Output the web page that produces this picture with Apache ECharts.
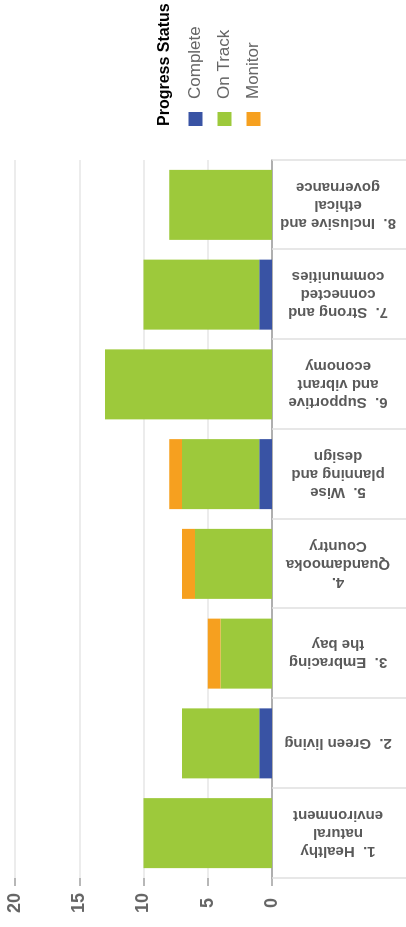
<!DOCTYPE html>
<html>
<head>
<meta charset="utf-8">
<title>Progress Status by Theme</title>
<script src="https://cdn.jsdelivr.net/npm/echarts@6/dist/echarts.min.js"></script>
<style>
  html, body { margin: 0; padding: 0; background: #fff; overflow: hidden; }
  #page { position: relative; width: 406px; height: 927px; overflow: hidden; }
  /* The column chart is laid out 927 wide x 406 tall, then turned a quarter turn anticlockwise */
  #chart {
    position: absolute; left: 0; top: 0;
    width: 927px; height: 406px;
    transform-origin: 0 0;
    transform: translateY(927px) rotate(-90deg);
  }
</style>
</head>
<body>
<div id="page"><div id="chart"></div></div>
<script>
const categories = [
  '1.  Healthy\nnatural\nenvironment',
  '2.  Green living',
  '3.  Embracing\nthe bay',
  '4.\nQuandamooka\nCountry',
  '5.  Wise\nplanning and\ndesign',
  '6.  Supportive\nand vibrant\neconomy',
  '7.  Strong and\nconnected\ncommunities',
  '8.  Inclusive and\nethical\ngovernance'
];
const complete = [0, 1, 0, 0, 1, 0, 1, 0];
const onTrack  = [10, 6, 4, 6, 6, 13, 9, 8];
const monitor  = [0, 0, 1, 1, 1, 0, 0, 0];
const valueTicks = { min: 0, max: 20, interval: 5 };

const FONT = '"Liberation Sans", Arial, Helvetica, sans-serif';
const colors = { complete: '#3953a4', onTrack: '#9dc93b', monitor: '#f6a01f' };

const chart = echarts.init(document.getElementById('chart'), null, { renderer: 'canvas' });

chart.setOption({
  animation: false,
  backgroundColor: '#ffffff',
  textStyle: { fontFamily: FONT },
  title: {
    text: 'Progress Status',
    left: 801,
    top: 157,
    padding: 0,
    textStyle: { fontFamily: FONT, fontSize: 16, fontWeight: 'bold', color: '#000000' }
  },
  legend: {
    orient: 'vertical',
    left: 801,
    top: 187,
    padding: 0,
    itemWidth: 14,
    itemHeight: 14,
    itemGap: 12,
    icon: 'rect',
    itemStyle: { borderWidth: 0 },
    textStyle: { fontFamily: FONT, fontSize: 17, color: '#666666', padding: [0, 0, 0, 8] },
    data: ['Complete', 'On Track', 'Monitor']
  },
  grid: { left: 49, right: 160, top: 15, bottom: 134, containLabel: false },
  xAxis: {
    type: 'category',
    data: categories,
    axisLine: { show: true, lineStyle: { color: '#9a9a9a', width: 1.5 } },
    axisTick: { show: true, length: 135, lineStyle: { color: '#e0e0e0', width: 1.5 } },
    axisLabel: {
      interval: 0,
      rotate: 90,
      align: 'center',
      margin: 66,
      fontFamily: FONT,
      fontSize: 15,
      fontWeight: 'bold',
      lineHeight: 18,
      color: '#5a5a5a'
    }
  },
  yAxis: {
    type: 'value',
    min: valueTicks.min,
    max: valueTicks.max,
    interval: valueTicks.interval,
    axisLine: { show: false },
    axisTick: { show: true, length: 8, lineStyle: { color: '#a0a0a0', width: 1.5 } },
    splitLine: { show: true, lineStyle: { color: '#e6e6e6', width: 1.5 } },
    axisLabel: {
      align: 'center',
      margin: 25,
      fontFamily: FONT,
      fontSize: 18,
      fontWeight: 'bold',
      color: '#666666'
    }
  },
  series: [
    { name: 'Complete', type: 'bar', stack: 'status', barWidth: 70,
      itemStyle: { color: colors.complete }, data: complete },
    { name: 'On Track', type: 'bar', stack: 'status', barWidth: 70,
      itemStyle: { color: colors.onTrack }, data: onTrack },
    { name: 'Monitor', type: 'bar', stack: 'status', barWidth: 70,
      itemStyle: { color: colors.monitor }, data: monitor }
  ]
});
</script>
</body>
</html>
